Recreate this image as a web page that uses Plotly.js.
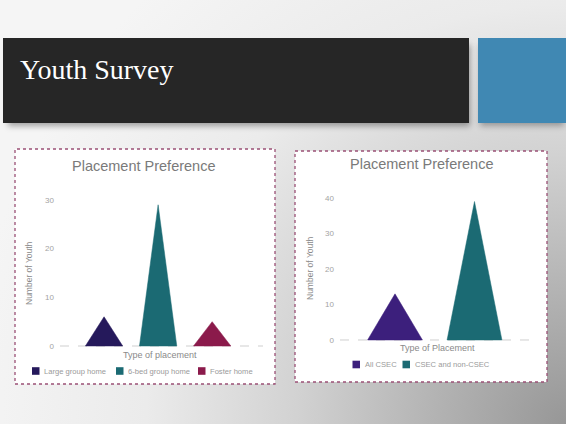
<!DOCTYPE html>
<html>
<head>
<meta charset="utf-8">
<script src="https://cdn.plot.ly/plotly-3.0.1.min.js"></script>
<style>
  html, body { margin:0; padding:0; width:566px; height:424px; overflow:hidden; }
  #slide { position:relative; width:566px; height:424px;
    background: radial-gradient(circle 600px at 100% 100%, #979797 0%, #b3b3b3 22%, #d2d2d2 45%, #ebebeb 70%, #f5f5f5 100%); }
  #bar { position:absolute; left:3px; top:38px; width:466px; height:85px; background:#262626;
    box-shadow: 3px 5px 6px -2px rgba(0,0,0,0.35); }
  #blue { position:absolute; left:478px; top:38px; width:88px; height:85px; background:#4088b3;
    box-shadow: 0px 5px 6px -2px rgba(0,0,0,0.3); }
  #ttl { position:absolute; left:20px; top:52px; color:#ffffff; font-family:"Liberation Serif","Times New Roman",serif;
    font-size:28px; line-height:36px; }
  #plot { position:absolute; left:0; top:0; width:566px; height:424px; }
</style>
</head>
<body>
<div id="slide">
  <div id="bar"></div>
  <div id="blue"></div>
  <div id="ttl">Youth Survey</div>
  <div id="plot"></div>
</div>
<script>
// ---- data ----
const chartTitle = 'Placement Preference';
const yTitle = 'Number of Youth';
const chart1XTitle = 'Type of placement';
const chart2XTitle = 'Type of Placement';
const chart1Categories = ['Large group home', '6-bed group home', 'Foster home'];
const chart1Values = [6, 29, 5];
const chart1Colors = ['#25195b', '#1b6a73', '#8b1a4b'];
const chart1Ticks = [0, 10, 20, 30];
const chart2Categories = ['All CSEC', 'CSEC and non-CSEC'];
const chart2Values = [13, 39];
const chart2Colors = ['#3c1f7c', '#1b6a73'];
const chart2Ticks = [0, 10, 20, 30, 40];

// ---- layout helpers ----
const W = 566, H = 424;
const px = x => x / W;
const py = y => 1 - y / H;
const FONT = '"Liberation Sans", Arial, sans-serif';
const HALF = 0.345; // triangle half width (category units)

function triangles(values, colors, cats, xa, ya) {
  return values.map((v, i) => ({
    type: 'scatter', mode: 'lines',
    x: [i - HALF, i, i + HALF, i - HALF],
    y: [0, v, 0, 0],
    fill: 'toself', fillcolor: colors[i],
    line: { color: colors[i], width: 0.5 },
    name: cats[i], showlegend: false, hoverinfo: 'name+y',
    xaxis: xa, yaxis: ya
  }));
}

const data = [
  ...triangles(chart1Values, chart1Colors, chart1Categories, 'x', 'y'),
  ...triangles(chart2Values, chart2Colors, chart2Categories, 'x2', 'y2')
];

const axisY = (ticks, range, domain) => ({
  domain: domain, range: range, tickvals: ticks, ticks: '', showgrid: false,
  zeroline: false, showline: false, ticklabelstandoff: 5,
  tickfont: { family: FONT, size: 8, color: '#a3a3a3' }
});
const axisX = (range, domain, anchor) => ({
  domain: domain, range: range, showticklabels: false, ticks: '', showgrid: false,
  zeroline: false, showline: false, anchor: anchor
});

const shapes = [
  // chart boxes
  { type:'rect', xref:'paper', yref:'paper', x0:px(15), x1:px(275), y0:py(384), y1:py(149),
    fillcolor:'#ffffff', line:{ color:'#9a5076', width:1.3, dash:'dot' }, layer:'below' },
  { type:'rect', xref:'paper', yref:'paper', x0:px(295), x1:px(547), y0:py(382), y1:py(151),
    fillcolor:'#ffffff', line:{ color:'#9a5076', width:1.3, dash:'dot' }, layer:'below' },
  // dashed zero lines
  { type:'line', xref:'x domain', yref:'y', x0:0, x1:1, y0:0, y1:0,
    line:{ color:'#cfcfcf', width:1, dash:'dash' }, layer:'below' },
  { type:'line', xref:'x2 domain', yref:'y2', x0:0, x1:1, y0:0, y1:0,
    line:{ color:'#cfcfcf', width:1, dash:'dash' }, layer:'below' }
];

const annotations = [];
function txt(text, x, y, size, color, extra) {
  annotations.push(Object.assign({
    text: text, xref:'paper', yref:'paper', x: px(x), y: py(y), showarrow:false,
    font:{ family: FONT, size: size, color: color }, xanchor:'center', yanchor:'middle'
  }, extra || {}));
}
// chart titles and axis titles
txt(chartTitle, 143, 166, 14.5, '#7a7a7a');
txt(chartTitle, 421, 164, 14.5, '#7a7a7a');
txt(yTitle, 29, 273, 8.5, '#8a8a8a', { textangle: -90 });
txt(yTitle, 310, 268, 8.5, '#8a8a8a', { textangle: -90 });
txt(chart1XTitle, 160, 355, 9, '#8a8a8a');
txt(chart2XTitle, 438, 348, 9, '#8a8a8a');

// manual legends
function legend(cats, colors, markerXs, yc) {
  cats.forEach((c, i) => {
    shapes.push({ type:'rect', xref:'paper', yref:'paper',
      x0: px(markerXs[i]), x1: px(markerXs[i] + 7.5), y0: py(yc + 3.8), y1: py(yc - 3.8),
      fillcolor: colors[i], line:{ width:0 } });
    txt(c, markerXs[i] + 10, yc, 7.6, '#9a9a9a', { xanchor:'left' });
  });
}
legend(chart1Categories, chart1Colors, [32, 116, 198], 371);
legend(chart2Categories, chart2Colors, [352.5, 402.5], 364.5);

const layout = {
  width: W, height: H, margin: { l:0, r:0, t:0, b:0 },
  paper_bgcolor: 'rgba(0,0,0,0)', plot_bgcolor: 'rgba(0,0,0,0)',
  showlegend: false,
  xaxis: axisX([-0.815, 2.94], [px(60), px(263)], 'y'),
  yaxis: axisY(chart1Ticks, [-0.82, 33.06], [py(350), py(185)]),
  xaxis2: axisX([-0.692, 1.799], [px(340), px(538)], 'y2'),
  yaxis2: Object.assign(axisY(chart2Ticks, [-1.13, 42.25], [py(344), py(190)]), { anchor: 'x2' }),
  shapes: shapes, annotations: annotations
};
layout.yaxis.anchor = 'x';

Plotly.newPlot('plot', data, layout, { displayModeBar: false, staticPlot: true });
</script>
</body>
</html>
